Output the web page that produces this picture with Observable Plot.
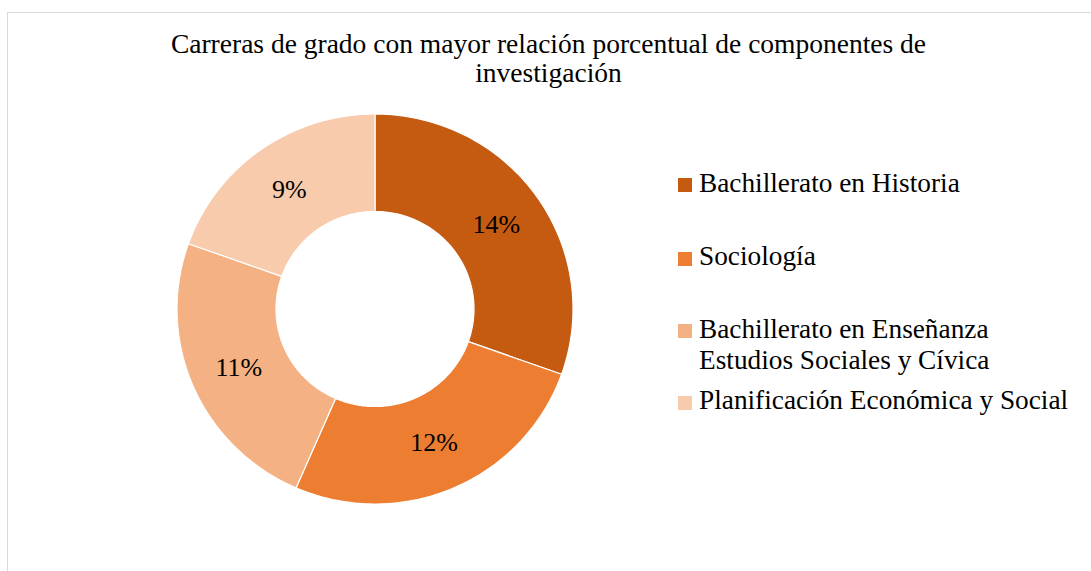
<!DOCTYPE html>
<html>
<head>
<meta charset="utf-8">
<script src="https://cdn.jsdelivr.net/npm/d3@7"></script>
<script src="https://cdn.jsdelivr.net/npm/@observablehq/plot@0.6"></script>
<style>
  html, body { margin: 0; padding: 0; background: #fff; }
  #wrap { position: relative; width: 1091px; height: 571px; overflow: hidden; font-family: "Liberation Serif", "Times New Roman", serif; color: #000; }
  #frame { position: absolute; left: 7px; top: 12px; width: 1200px; height: 700px; border-left: 1.5px solid #d9d9d9; border-top: 1.5px solid #d9d9d9; }
  #chart { position: absolute; left: 0; top: 0; }
  #title { position: absolute; left: 6px; top: 28.7px; width: 1085px; text-align: center; font-size: 27.5px; line-height: 29.5px; white-space: nowrap; }
  .leg { position: absolute; left: 678px; font-size: 27.3px; line-height: 31px; white-space: nowrap; }
  .sw { position: absolute; left: 0; width: 14px; height: 14px; }
  .lt { position: absolute; left: 21px; top: 0; }
</style>
</head>
<body>
<div id="wrap">
  <div id="frame"></div>
  <div id="chart"></div>
  <div id="title"></div>
</div>
<script>
const titleLines = ["Carreras de grado con mayor relación porcentual de componentes de", "investigación"];
const categories = ["Bachillerato en Historia", "Sociología", "Bachillerato en Enseñanza Estudios Sociales y Cívica", "Planificación Económica y Social"];
const legendLines = [["Bachillerato en Historia"], ["Sociología"], ["Bachillerato en Enseñanza", "Estudios Sociales y Cívica"], ["Planificación Económica y Social"]];
const values = [14, 12, 11, 9];
const valueLabels = ["14%", "12%", "11%", "9%"];
const colors = ["#C55A11", "#ED7D31", "#F4B183", "#F8CBAD"];

const W = 1091, H = 571;
const cx = 374.5, cy = 308.5, rx = 198, ry = 195;
const inner = 0.5;

const arcs = d3.pie().sort(null).value(d => d)(values);
const slices = [];
const labelRows = [];
arcs.forEach((a, i) => {
  const n = 90;
  const pts = [];
  for (let k = 0; k <= n; k++) {
    const t = a.startAngle + (a.endAngle - a.startAngle) * k / n;
    pts.push({name: categories[i], x: Math.sin(t), y: Math.cos(t)});
  }
  for (let k = n; k >= 0; k--) {
    const t = a.startAngle + (a.endAngle - a.startAngle) * k / n;
    pts.push({name: categories[i], x: inner * Math.sin(t), y: inner * Math.cos(t)});
  }
  pts.push({...pts[0]});
  slices.push(...pts);
  const m = (a.startAngle + a.endAngle) / 2;
  const r = (1 + inner) / 2;
  labelRows.push({name: categories[i], label: valueLabels[i], x: r * Math.sin(m), y: r * Math.cos(m)});
});

const chart = Plot.plot({
  width: W,
  height: H,
  margin: 0,
  x: {domain: [-cx / rx, (W - cx) / rx], axis: null},
  y: {domain: [-(H - cy) / ry, cy / ry], axis: null},
  color: {domain: categories, range: colors},
  style: {background: "transparent", fontFamily: "Liberation Serif"},
  marks: [
    Plot.line(slices, {x: "x", y: "y", z: "name", fill: "name", stroke: "white", strokeWidth: 1.2, curve: "linear"}),
    Plot.text(labelRows, {x: "x", y: "y", text: "label", fontSize: 26, fontFamily: "Liberation Serif", fill: "black"})
  ]
});
document.getElementById("chart").appendChild(chart);

document.getElementById("title").innerHTML = titleLines.join("<br>");

const legendBaselines = [192.3, 266, 338.3, 410];
const wrap = document.getElementById("wrap");
legendLines.forEach((lines, i) => {
  const d = document.createElement("div");
  d.className = "leg";
  d.style.top = (legendBaselines[i] - 24.8) + "px";
  const sw = document.createElement("div");
  sw.className = "sw";
  sw.style.top = "10.5px";
  sw.style.background = colors[i];
  const t = document.createElement("div");
  t.className = "lt";
  t.innerHTML = lines.join("<br>");
  d.appendChild(sw);
  d.appendChild(t);
  wrap.appendChild(d);
});
</script>
</body>
</html>
